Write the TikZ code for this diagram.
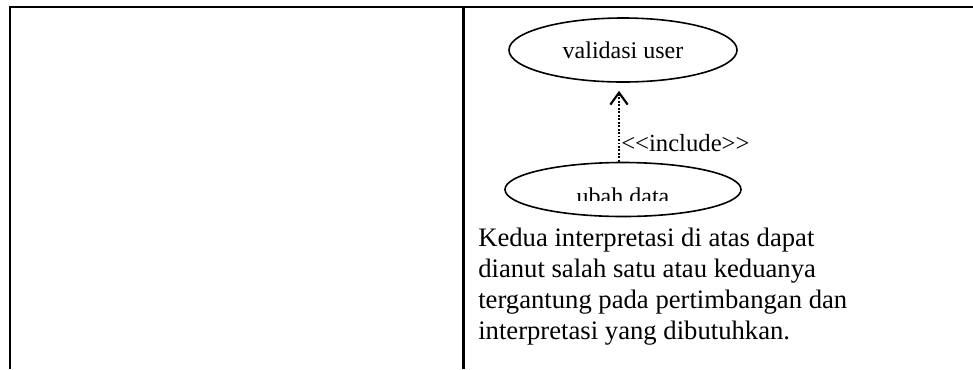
\documentclass[tikz,border=0pt]{standalone}
\usepackage{fontspec}
\setmainfont{Liberation Serif}
\usetikzlibrary{arrows.meta,shapes.geometric,positioning}

\begin{document}
\begin{tikzpicture}[x=0.75pt,y=-0.75pt,
  cell/.style={line width=1.8pt},
  usecase/.style={draw,ellipse,line width=1.2pt,inner sep=0pt,font=\fontsize{18}{21}\selectfont},
  incl/.style={line width=1.6pt,dash pattern=on 1.4pt off 1.2pt,-{Straight Barb[length=9pt,width=13pt,line width=1.6pt]}}]
\useasboundingbox (0,0) rectangle (973,369);
% table lines
\draw[cell] (10,369) -- (10,7) -- (973,7);
\draw[cell] (463.5,7) -- (463.5,369);
% use cases
\node[usecase,minimum width=171pt,minimum height=48pt] (validasi) at (623,50) {validasi user};
\node[usecase,minimum width=177pt,minimum height=40.5pt] (ubah) at (623,189.5) {};
\begin{scope}
\clip (500,150) rectangle (750,200);
\node[font=\fontsize{18}{21}\selectfont] (ubahtxt) at (623,196) {ubah data};
\end{scope}
\draw[incl] ([xshift=-3pt]ubah.north) -- ([xshift=-3pt,yshift=-6pt]validasi.south);
\node[anchor=west,inner sep=0pt,font=\fontsize{18.5}{21}\selectfont] (inc) at (621,143) {<{}<include>{}>};
% keterangan
\node[anchor=north west,inner sep=0pt,align=left,font=\fontsize{20}{23.3}\selectfont] (ket) at (478,228)
  {Kedua interpretasi di atas dapat\\
   dianut salah satu atau keduanya\\
   tergantung pada pertimbangan dan\\
   interpretasi yang dibutuhkan.};
\end{tikzpicture}
\end{document}
